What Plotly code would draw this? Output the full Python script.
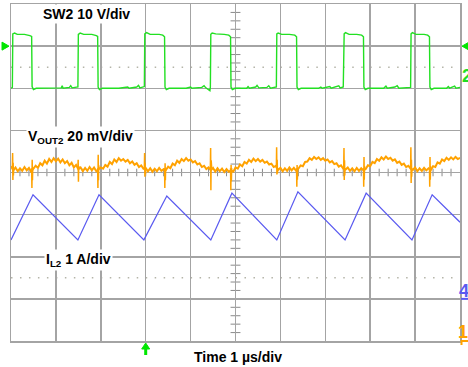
import numpy as np
import plotly.graph_objects as go

# ---------------- data (time in µs, 1 µs/div, 10 div) ----------------
# SW2 switch node, volts (10 V/div), ground reference at +2 div
sw_pts = [
    (0.00, 0.0), (0.03, 0.2), (0.04, 12.9), (0.08, 13.1), (0.14, 12.8), (0.30, 12.8), (0.42, 12.5), (0.46, 12.3),
    (0.47, 0.4), (0.50, -0.3), (0.56, 0.0), (0.90, 0.0), (1.12, 0.1), (1.14, 0.6), (1.16, 0.0), (1.30, 0.2),
    (1.33, 0.6), (1.36, 0.1), (1.49, 0.3),
    (1.50, 12.8), (1.54, 13.1), (1.62, 12.8), (1.80, 12.8), (1.90, 12.5), (1.93, 12.3),
    (1.94, 0.3), (1.97, -0.3), (2.03, 0.0), (2.40, 0.0), (2.60, 0.3), (2.63, 0.0), (2.80, 0.3), (2.84, 0.7),
    (2.87, 0.1), (2.97, 0.4),
    (2.98, 12.9), (3.02, 13.2), (3.10, 12.8), (3.30, 12.8), (3.38, 12.6), (3.42, 12.2),
    (3.43, 0.3), (3.46, -0.3), (3.52, 0.0), (3.90, 0.0), (4.00, 0.3), (4.03, 0.0), (4.25, 0.2), (4.30, 0.6),
    (4.34, 0.1), (4.43, -0.6), (4.44, 0.3),
    (4.45, 12.8), (4.48, 13.1), (4.56, 12.9), (4.75, 12.8), (4.85, 12.6), (4.89, 12.2),
    (4.90, 0.3), (4.93, -0.3), (4.99, 0.0), (5.25, 0.0), (5.28, 0.4), (5.31, 0.0), (5.45, 0.3), (5.48, 0.7),
    (5.52, 0.1), (5.70, 0.2), (5.74, 0.6), (5.78, 0.0), (5.91, 0.3),
    (5.92, 12.9), (5.95, 13.1), (6.03, 12.8), (6.20, 12.8), (6.32, 12.6), (6.36, 12.2),
    (6.37, 0.3), (6.40, -0.3), (6.46, 0.0), (6.85, 0.0), (6.90, 0.3), (6.93, 0.0), (7.10, 0.4), (7.13, 0.0),
    (7.30, 0.6), (7.33, 0.1), (7.40, 0.3),
    (7.42, 12.9), (7.45, 13.2), (7.53, 12.8), (7.70, 12.8), (7.81, 12.6), (7.85, 12.2),
    (7.86, 0.3), (7.89, -0.3), (7.95, 0.0), (8.30, 0.0), (8.35, 0.5), (8.38, 0.0), (8.55, 0.3), (8.60, 0.6),
    (8.64, 0.0), (8.90, 0.2),
    (8.91, 12.9), (8.94, 13.2), (9.02, 12.8), (9.20, 12.8), (9.28, 12.6), (9.32, 12.2),
    (9.33, 0.3), (9.36, -0.3), (9.42, 0.0), (9.70, 0.0), (9.74, 0.4), (9.77, 0.0), (9.88, 0.5), (9.91, 0.0),
    (10.0, 0.2),
]
sw_rise_t = [0.04, 1.50, 2.98, 4.45, 5.92, 7.42, 8.91]
sw_fall_t = [0.47, 1.94, 3.43, 4.90, 6.37, 7.86, 9.33]

# VOUT2 ripple, mV (20 mV/div), sampled every 0.05 µs
vout_dt = 0.05
vout_mv = [
    3.0, 1.0, 2.4, 0.6, 2.0, 0.8, 2.6, 1.0, 2.2, 0.4,
    1.8, 3.2, 2.2, 4.4, 3.4, 5.6, 4.2, 6.4, 5.0, 6.8,
    5.4, 6.6, 4.8, 6.2, 4.4, 5.4, 3.4, 4.6, 2.4, 3.6,
    1.6, 2.4, 0.6, 2.2, 0.8, 2.6, 1.0, 2.4, 0.6, 1.6,
    2.4, 1.8, 3.6, 2.8, 5.0, 4.0, 6.2, 5.0, 6.8, 5.6,
    6.4, 5.2, 6.0, 4.4, 5.2, 3.6, 4.4, 2.6, 3.4, 1.8,
    2.2, 0.6, 2.0, 0.4, 1.8, 0.6, 2.2, 0.8, 1.6, 1.2,
    2.8, 2.0, 4.2, 3.4, 5.6, 4.6, 6.4, 5.4, 6.8, 5.6,
    6.2, 4.8, 5.4, 3.8, 4.4, 2.6, 3.2, 1.6, 2.4, 1.0,
    2.2, 0.4, 2.0, 0.6, 1.8, 0.2, 1.6, 0.4, 1.0, 0.4,
    2.4, 1.8, 3.8, 3.0, 5.0, 4.2, 6.0, 5.0, 6.6, 5.4,
    6.4, 5.2, 6.0, 4.6, 5.2, 3.8, 4.2, 2.6, 3.2, 1.2,
    2.2, 0.6, 2.0, 0.8, 2.4, 1.0, 2.2, 0.8, 1.8, 3.4,
    3.0, 5.0, 5.2, 6.8, 6.0, 7.4, 6.4, 7.2, 6.0, 6.8,
    5.6, 6.2, 4.8, 5.4, 4.0, 4.4, 2.8, 3.4, 1.8, 1.4,
    2.4, 0.8, 2.0, 0.6, 2.2, 0.8, 2.0, 1.0, 1.6, 3.4,
    3.0, 5.0, 4.4, 6.4, 5.6, 7.2, 6.2, 7.6, 6.4, 7.0,
    5.6, 6.2, 4.6, 5.2, 3.6, 4.2, 2.6, 3.2, 1.8, 1.2,
    2.4, 0.6, 2.0, 0.8, 2.2, 1.0, 2.0, 1.2, 3.0, 2.6,
    4.8, 4.2, 6.2, 5.4, 7.0, 6.0, 7.2, 6.2, 7.4, 6.4,
    7.0,
]
# switching spikes on VOUT2, mV
spike_rise_up_mv = [9.2, 6.0, 9.2, 11.6, 12.0, 11.6, 12.0]
spike_rise_dn_mv = [-3.6, -4.4, -2.0, -8.4, -1.0, -3.6, -5.0]
spike_fall_up_mv = [6.0, 8.4, 4.4, 3.6, 3.6, 7.4, 7.4]
spike_fall_dn_mv = [-7.4, -7.4, -7.4, -8.4, -6.8, -6.8, -6.8]
spike_base_mv = 2.0

# IL2 inductor current, A (1 A/div), ground reference at -3 div
il_t = [0.00, 0.49, 1.49, 1.96, 2.96, 3.47, 4.45, 4.92, 5.92, 6.39, 7.44, 7.91, 8.93, 9.38, 10.0]
il_a = [1.40, 2.47, 1.40, 2.47, 1.40, 2.44, 1.40, 2.51, 1.40, 2.54, 1.40, 2.51, 1.40, 2.47, 1.82]

# channel settings
sw_scale, sw_pos = 10.0, 2.0      # V/div, ground position (div)
vout_scale, vout_pos = 20.0, 0.0  # mV/div
il_scale, il_pos = 1.0, -3.0      # A/div
vout_gnd_div = -4.0
trig_time_us = 3.0
trig_level_v = 10.0

# ---------------- figure ----------------
W, H = 468, 367
ML, MR, MT, MB = 11, 8, 4, 26
PW, PH = W - ML - MR, H - MT - MB
GREEN, ORANGE, BLUE = "#22e022", "#ffa200", "#5a5af0"
GRID = "#a4a4a4"

def pxx(t, dpx=0.0):
    return t / 10.0 + dpx / PW

def pxy(d, dpx=0.0):
    return (d + 4.0) / 8.0 - dpx / PH

fig = go.Figure()

sw_t = [p[0] for p in sw_pts]
sw_d = [p[1] / sw_scale + sw_pos for p in sw_pts]
fig.add_trace(go.Scatter(x=sw_t, y=sw_d, mode="lines",
                         line=dict(color=GREEN, width=1.4), hoverinfo="skip"))

vt = np.arange(len(vout_mv)) * vout_dt
vd = np.array(vout_mv) / vout_scale + vout_pos
fig.add_trace(go.Scatter(x=vt, y=vd, mode="lines",
                         line=dict(color=ORANGE, width=2.0), hoverinfo="skip"))

sx, sy = [], []
for te, up, dn in zip(sw_rise_t, spike_rise_up_mv, spike_rise_dn_mv):
    seq = [spike_base_mv, up, dn, up * 0.5, dn * 0.4, spike_base_mv]
    for k, v in enumerate(seq):
        sx.append(te - 0.01 + 0.006 * k)
        sy.append(v / vout_scale + vout_pos)
    sx.append(None); sy.append(None)
for te, up, dn in zip(sw_fall_t, spike_fall_up_mv, spike_fall_dn_mv):
    seq = [spike_base_mv, dn, up, dn * 0.5, up * 0.4, spike_base_mv]
    for k, v in enumerate(seq):
        sx.append(te - 0.01 + 0.006 * k)
        sy.append(v / vout_scale + vout_pos)
    sx.append(None); sy.append(None)
fig.add_trace(go.Scatter(x=sx, y=sy, mode="lines",
                         line=dict(color=ORANGE, width=1.5), hoverinfo="skip"))

fig.add_trace(go.Scatter(x=il_t, y=[a / il_scale + il_pos for a in il_a], mode="lines",
                         line=dict(color=BLUE, width=1.2), hoverinfo="skip"))

shapes = []
# centre-line ticks
tick_path = ""
for k in range(1, 50):
    x = k * 0.2
    tick_path += f"M{x:.3f},-0.09 L{x:.3f},0.09 "
for k in range(1, 40):
    y = -4 + k * 0.2
    tick_path += f"M4.89,{y:.3f} L5.11,{y:.3f} "
shapes.append(dict(type="path", xref="x", yref="y", path=tick_path,
                   line=dict(color="#8a8a8a", width=1), layer="below"))
# dotted reference lines at ±2.5 div
for yv in (2.5, -2.5):
    shapes.append(dict(type="line", xref="x", yref="y", x0=0, x1=10, y0=yv, y1=yv,
                       line=dict(color="#b4b4a8", width=1.5, dash="1.5px,7.48px"), layer="below"))

def ppath(points):
    return "M" + " L".join(f"{x:.5f},{y:.5f}" for x, y in points) + " Z"

trig_div = trig_level_v / sw_scale + sw_pos
# left trigger arrow
shapes.append(dict(type="path", xref="paper", yref="paper", fillcolor="#00e600",
                   line=dict(color="#00e600", width=1),
                   path=ppath([(pxx(0, -9), pxy(trig_div, -4)), (pxx(0, -2), pxy(trig_div)),
                               (pxx(0, -9), pxy(trig_div, 4))])))
# right trigger arrow
shapes.append(dict(type="path", xref="paper", yref="paper", fillcolor="#00e600",
                   line=dict(color="#00e600", width=1),
                   path=ppath([(pxx(10, 9), pxy(trig_div, -4)), (pxx(10, 2), pxy(trig_div)),
                               (pxx(10, 9), pxy(trig_div, 4))])))
# trigger position arrow (bottom)
shapes.append(dict(type="path", xref="paper", yref="paper", fillcolor="#00e600",
                   line=dict(color="#00e600", width=1),
                   path=ppath([(pxx(trig_time_us, -4), pxy(-4, 8)), (pxx(trig_time_us), pxy(-4, 2)),
                               (pxx(trig_time_us, 4), pxy(-4, 8))])))
shapes.append(dict(type="rect", xref="paper", yref="paper", fillcolor="#00e600",
                   line=dict(width=0),
                   x0=pxx(trig_time_us, -1.5), x1=pxx(trig_time_us, 1.5),
                   y0=pxy(-4, 14), y1=pxy(-4, 7)))
# ch4 ground marker underline
shapes.append(dict(type="line", xref="paper", yref="paper",
                   x0=pxx(10, 1), x1=pxx(10, 8), y0=pxy(il_pos), y1=pxy(il_pos),
                   line=dict(color=BLUE, width=2)))
# ch1 ground marker
shapes.append(dict(type="path", xref="paper", yref="paper",
                   path=f"M{pxx(10, 8):.5f},{pxy(vout_gnd_div):.5f} L{pxx(10, 1.5):.5f},{pxy(vout_gnd_div):.5f} "
                        f"L{pxx(10, 1.5):.5f},{pxy(vout_gnd_div, 4):.5f}",
                   line=dict(color=ORANGE, width=2)))

FONT = "Arial, 'Liberation Sans', sans-serif"
annotations = [
    dict(x=1.69, y=3.76, xref="x", yref="y", text="<b>SW2 10 V/div</b>"),
    dict(x=1.55, y=0.85, xref="x", yref="y", text="<b>V<sub>OUT2</sub> 20 mV/div</b>"),
    dict(x=1.50, y=-2.07, xref="x", yref="y", text="<b>I<sub>L2</sub> 1 A/div</b>"),
]
for a in annotations:
    a.update(showarrow=False, bgcolor="white", borderpad=1, xanchor="center", yanchor="middle",
             font=dict(family=FONT, size=14, color="black"))
annotations.append(dict(x=pxx(5.05), y=pxy(-4, 16), xref="paper", yref="paper",
                        text="<b>Time 1 µs/div</b>", showarrow=False,
                        xanchor="center", yanchor="middle",
                        font=dict(family=FONT, size=14, color="black")))
annotations.append(dict(x=pxx(10, 7), y=pxy(sw_pos, -12), xref="paper", yref="paper",
                        text="<b>2</b>", showarrow=False, xanchor="center", yanchor="middle",
                        font=dict(family=FONT, size=18, color="#22dd22")))
annotations.append(dict(x=pxx(10, 4), y=pxy(il_pos, -8), xref="paper", yref="paper",
                        text="<b>4</b>", showarrow=False, xanchor="center", yanchor="middle",
                        font=dict(family=FONT, size=18, color=BLUE)))
annotations.append(dict(x=pxx(10, 3), y=pxy(vout_gnd_div, -9), xref="paper", yref="paper",
                        text="<b>1</b>", showarrow=False, xanchor="center", yanchor="middle",
                        font=dict(family=FONT, size=18, color=ORANGE)))

axis_common = dict(showgrid=True, gridcolor=GRID, gridwidth=1.5, zeroline=False,
                   showline=True, mirror=True, linecolor=GRID, linewidth=1.5,
                   showticklabels=False, ticks="", fixedrange=True)
fig.update_layout(
    width=W, height=H,
    margin=dict(l=ML, r=MR, t=MT, b=MB, pad=0, autoexpand=False),
    paper_bgcolor="white", plot_bgcolor="white",
    showlegend=False,
    xaxis=dict(range=[0, 10], dtick=1, tick0=0, **axis_common),
    yaxis=dict(range=[-4, 4], dtick=1, tick0=-4, **axis_common),
    shapes=shapes, annotations=annotations,
)
fig.write_html("out.html", config={"displayModeBar": False, "staticPlot": True},
               post_script="document.body.style.margin='0';document.body.style.overflow='hidden';")
